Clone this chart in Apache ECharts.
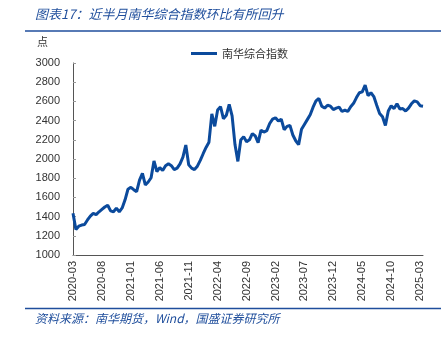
<!DOCTYPE html>
<html>
<head>
<meta charset="utf-8">
<script src="https://cdn.jsdelivr.net/npm/echarts@6/dist/echarts.min.js"></script>
<style>
html,body{margin:0;padding:0;background:#fff;}
#c{width:444px;height:337px;}
</style>
</head>
<body>
<div id="c"></div>
<script>
// Semi-monthly sample dates, 2020-03 to 2025-03
const startYear = 2020, startMonth = 3, nPoints = 122;
const categories = [];
for (let i = 0; i < nPoints; i++) {
  const m = startMonth - 1 + Math.floor(i / 2);
  const y = startYear + Math.floor(m / 12);
  const mm = (m % 12) + 1;
  categories.push(y + '-' + (mm < 10 ? '0' + mm : mm) + (i % 2 === 0 ? '-01' : '-16'));
}
const seriesName = '南华综合指数';
const values = [
  1434, 1265, 1300, 1312, 1318, 1365, 1405, 1434, 1420, 1450,
  1475, 1500, 1518, 1460, 1450, 1488, 1450, 1490, 1575, 1685,
  1705, 1680, 1660, 1780, 1850, 1730, 1760, 1805, 1980, 1870,
  1910, 1880, 1930, 1950, 1930, 1890, 1905, 1950, 2020, 2146,
  1940, 1905, 1890, 1925, 1985, 2055, 2120, 2175, 2470, 2340,
  2510, 2545, 2420, 2455, 2570, 2450, 2150, 1975, 2198, 2233,
  2180, 2200, 2265, 2240, 2170, 2300, 2280, 2295, 2370, 2415,
  2430, 2395, 2415, 2305, 2340, 2350, 2250, 2190, 2150, 2310,
  2360, 2410, 2460, 2540, 2605, 2630, 2550, 2530, 2560, 2550,
  2515, 2530, 2540, 2495, 2510, 2495, 2545, 2580, 2640, 2690,
  2700, 2770, 2660, 2690, 2650, 2560, 2475, 2440, 2350, 2500,
  2555, 2525, 2575, 2520, 2525, 2500, 2530, 2575, 2605, 2595,
  2555, 2550
];
const yMin = 1000, yMax = 3000, yStep = 200;
const labelEvery = 10; // every 5 months
const titleText = '图表17：近半月南华综合指数环比有所回升';
const unitText = '点';
const sourceText = '资料来源：南华期货，Wind，国盛证券研究所';

const chart = echarts.init(document.getElementById('c'), null, {renderer: 'canvas'});
const blue = '#1f4e9c';
chart.setOption({
  animation: false,
  textStyle: {fontFamily: 'Liberation Sans, Arial, Noto Sans CJK SC, sans-serif'},
  grid: {left: 73, right: 21, top: 63, bottom: 82, containLabel: false},
  legend: {
    data: [seriesName],
    left: 186, top: 43,
    icon: 'rect', itemWidth: 26, itemHeight: 3, itemGap: 4,
    textStyle: {fontSize: 11, color: '#333', fontFamily: 'Noto Sans CJK SC'}
  },
  xAxis: {
    type: 'category',
    data: categories,
    boundaryGap: false,
    axisLine: {lineStyle: {color: '#555', width: 1}},
    axisTick: {show: false},
    axisLabel: {
      rotate: 90, fontSize: 11, color: '#333', margin: 6,
      interval: function (idx) { return idx % labelEvery === 0; },
      formatter: function (v) { return v.slice(0, 7); }
    },
    splitLine: {show: false}
  },
  yAxis: {
    type: 'value',
    min: yMin, max: yMax, interval: yStep,
    axisLine: {show: true, lineStyle: {color: '#555', width: 1}},
    axisTick: {show: true, inside: true, length: 3, lineStyle: {color: '#999'}},
    axisLabel: {fontSize: 11, color: '#333', margin: 13, formatter: function (v) { return String(v); }},
    splitLine: {show: false}
  },
  series: [{
    name: seriesName,
    type: 'line',
    data: values,
    symbol: 'none',
    lineStyle: {width: 3, color: '#0b4a9c'},
    itemStyle: {color: '#0b4a9c'}
  }],
  graphic: [
    {type: 'text', left: 35, top: 8, style: {text: titleText, fill: blue, font: 'italic 13px "Noto Sans CJK SC"'}},
    {type: 'line', shape: {x1: 25, y1: 31, x2: 441, y2: 31}, style: {stroke: blue, lineWidth: 1.5}},
    {type: 'text', left: 37, top: 36, style: {text: unitText, fill: '#333', font: '11px "Noto Sans CJK SC"'}},
    {type: 'line', shape: {x1: 25, y1: 308.5, x2: 441, y2: 308.5}, style: {stroke: blue, lineWidth: 1.5}},
    {type: 'text', left: 35, top: 312, style: {text: sourceText, fill: blue, font: 'italic 12px "Noto Sans CJK SC"'}}
  ]
});
</script>
</body>
</html>
